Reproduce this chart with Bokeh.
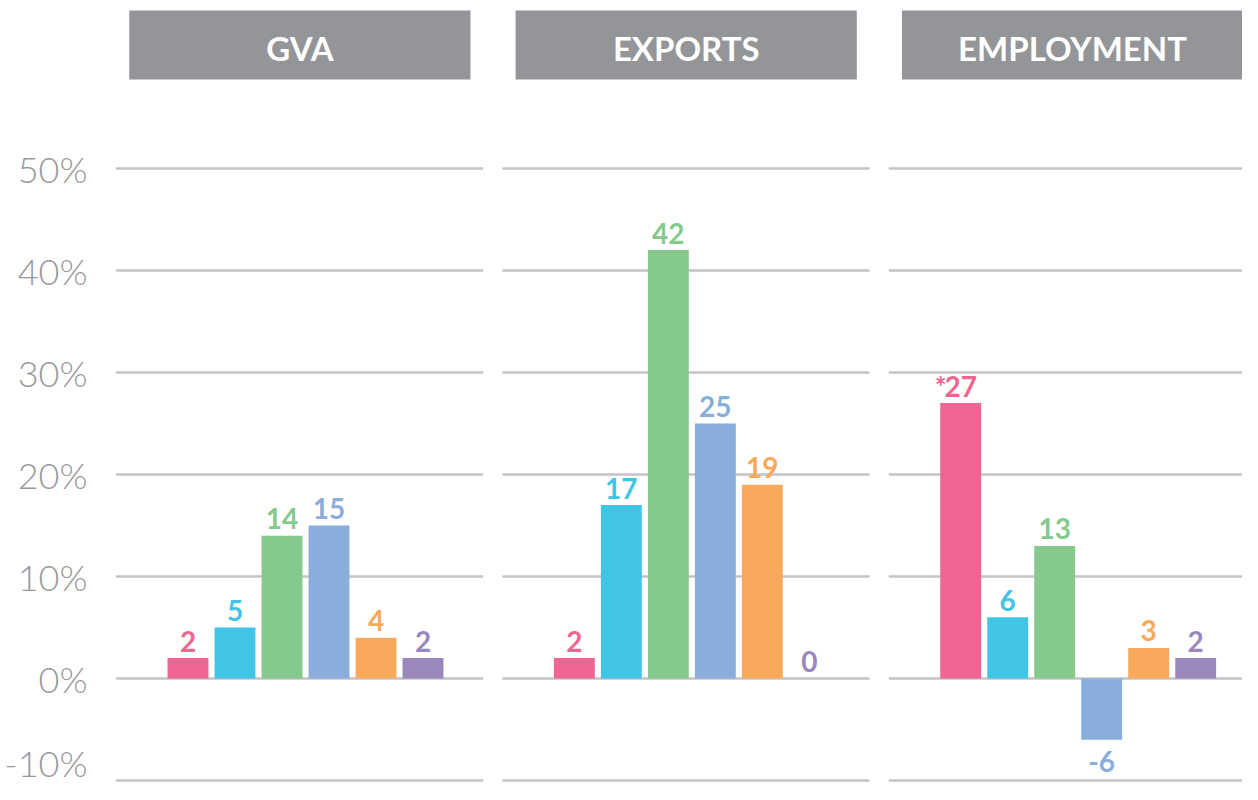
from bokeh.plotting import figure
from bokeh.models import Range1d, FixedTicker, ColumnDataSource
from bokeh.core.properties import value
from bokeh.embed import file_html
from bokeh.resources import INLINE

# ---- data ----
panels = ["GVA", "EXPORTS", "EMPLOYMENT"]
series_colors = ["#F06592", "#41C5E6", "#86C98D", "#8AAEDB", "#F8A95C", "#9A88BC"]
gva = [2, 5, 14, 15, 4, 2]
exports = [2, 17, 42, 25, 19, 0]
employment = [27, 6, 13, -6, 3, 2]
employment_notes = ["*", "", "", "", "", ""]
y_ticks = [-10, 0, 10, 20, 30, 40, 50]
y_tick_labels = ["-10%", "0%", "10%", "20%", "30%", "40%", "50%"]

panel_values = [gva, exports, employment]
panel_notes = [[""] * 6, [""] * 6, employment_notes]

# ---- layout constants (in bar-pitch units) ----
group_pitch = 8.22
bar_width = 0.87
grid_span = (-1.53, 6.28)
head_span = (-1.25, 6.01)
head_bottom, head_top = 58.73, 65.49
head_text_y = 61.85

GRID = "#C3C3C8"
HEAD = "#939598"
TICK = "#98999C"

p = figure(width=1242, height=784,
           x_range=Range1d(-1.585, 22.436), y_range=Range1d(-10.39, 66.47),
           output_backend="svg", toolbar_location=None,
           x_axis_location=None, y_axis_location="left",
           min_border_left=113, min_border_right=0, min_border_top=0, min_border_bottom=0)
p.outline_line_color = None
p.xgrid.visible = False
p.ygrid.visible = False
p.background_fill_color = "white"
p.border_fill_color = "white"

# y axis
ax = p.yaxis[0]
ax.ticker = FixedTicker(ticks=y_ticks)
ax.major_label_overrides = {t: l for t, l in zip(y_ticks, y_tick_labels)}
ax.axis_line_color = None
ax.major_tick_line_color = None
ax.minor_tick_line_color = None
ax.major_label_standoff = 20
ax.major_label_text_font = "Lato Light"
ax.major_label_text_font_size = "36px"
ax.major_label_text_color = TICK

# gridlines per panel
gx0, gx1, gy = [], [], []
for g in range(len(panels)):
    for t in y_ticks:
        gx0.append(g * group_pitch + grid_span[0])
        gx1.append(g * group_pitch + grid_span[1])
        gy.append(t)
p.segment(x0=gx0, x1=gx1, y0=gy, y1=gy, line_color=GRID, line_width=2.5)

# headers
hl = [g * group_pitch + head_span[0] for g in range(len(panels))]
hr = [g * group_pitch + head_span[1] for g in range(len(panels))]
p.quad(left=hl, right=hr, bottom=[head_bottom] * 3, top=[head_top] * 3,
       fill_color=HEAD, line_color=None)
p.text(x=[(a + b) / 2 for a, b in zip(hl, hr)], y=[head_text_y] * 3, text=panels,
       text_align="center", text_baseline="middle", text_color="white",
       text_font=value("Lato"), text_font_style="bold", text_font_size="33px")

# bars
xs, tops, cols, labels, notes, yoff = [], [], [], [], [], []
for g, vals in enumerate(panel_values):
    for i, v in enumerate(vals):
        xs.append(g * group_pitch + i)
        tops.append(v)
        cols.append(series_colors[i])
        labels.append(str(v))
        notes.append(panel_notes[g][i])
        yoff.append(-17 if v >= 0 else 22)

src = ColumnDataSource(dict(x=xs, top=tops, color=cols, label=labels, note=notes, yoff=yoff))
p.vbar(x="x", top="top", bottom=0, width=bar_width, color="color", line_color=None, source=src)
p.text(x="x", y="top", text="label", y_offset="yoff", text_color="color",
       text_align="center", text_baseline="alphabetic",
       text_font=value("Lato"), text_font_style="bold", text_font_size="28px", source=src)
p.text(x="x", y="top", text="note", y_offset="yoff", x_offset=-14, text_color="color",
       text_align="right", text_baseline="alphabetic",
       text_font=value("Lato"), text_font_style="bold", text_font_size="28px", source=src)

open("out.html", "w").write(file_html(p, INLINE))
